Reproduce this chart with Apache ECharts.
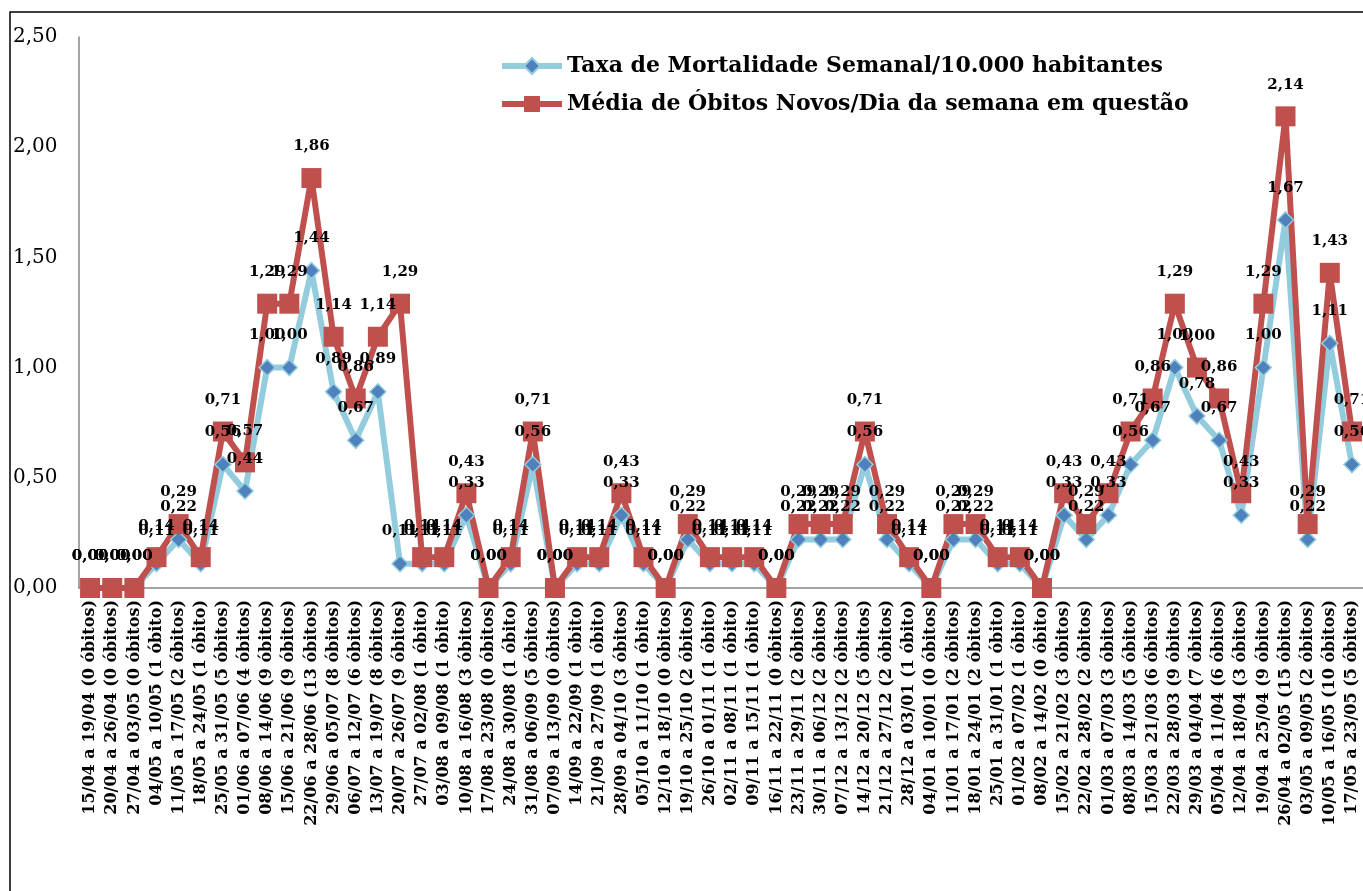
<!DOCTYPE html>
<html>
<head>
<meta charset="utf-8">
<script src="https://cdn.jsdelivr.net/npm/echarts@6/dist/echarts.min.js"></script>
<style>html,body{margin:0;padding:0;background:#fff;}#c{width:1363px;height:891px;}</style>
</head>
<body>
<div id="c"></div>
<script>
var categories = [
"15/04 a 19/04 (0 óbitos)","20/04 a 26/04 (0 óbitos)","27/04 a 03/05 (0 óbitos)","04/05 a 10/05 (1 óbito)",
"11/05 a 17/05 (2 óbitos)","18/05 a 24/05 (1 óbito)","25/05 a 31/05 (5 óbitos)","01/06 a 07/06 (4 óbitos)",
"08/06 a 14/06 (9 óbitos)","15/06 a 21/06 (9 óbitos)","22/06 a 28/06 (13 óbitos)","29/06 a 05/07 (8 óbitos)",
"06/07 a 12/07 (6 óbitos)","13/07 a 19/07 (8 óbitos)","20/07 a 26/07 (9 óbitos)","27/07 a 02/08 (1 óbito)",
"03/08 a 09/08 (1 óbito)","10/08 a 16/08 (3 óbitos)","17/08 a 23/08 (0 óbitos)","24/08 a 30/08 (1 óbito)",
"31/08 a 06/09 (5 óbitos)","07/09 a 13/09 (0 óbitos)","14/09 a 22/09 (1 óbito)","21/09 a 27/09 (1 óbito)",
"28/09 a 04/10 (3 óbitos)","05/10 a 11/10 (1 óbito)","12/10 a 18/10 (0 óbitos)","19/10 a 25/10 (2 óbitos)",
"26/10 a 01/11 (1 óbito)","02/11 a 08/11 (1 óbito)","09/11 a 15/11 (1 óbito)","16/11 a 22/11 (0 óbitos)",
"23/11 a 29/11 (2 óbitos)","30/11 a 06/12 (2 óbitos)","07/12 a 13/12 (2 óbitos)","14/12 a 20/12 (5 óbitos)",
"21/12 a 27/12 (2 óbitos)","28/12 a 03/01 (1 óbito)","04/01 a 10/01 (0 óbitos)","11/01 a 17/01 (2 óbitos)",
"18/01 a 24/01 (2 óbitos)","25/01 a 31/01 (1 óbito)","01/02 a 07/02 (1 óbito)","08/02 a 14/02 (0 óbito)",
"15/02 a 21/02 (3 óbitos)","22/02 a 28/02 (2 óbitos)","01/03 a 07/03 (3 óbitos)","08/03 a 14/03 (5 óbitos)",
"15/03 a 21/03 (6 óbitos)","22/03 a 28/03 (9 óbitos)","29/03 a 04/04 (7 óbitos)","05/04 a 11/04 (6 óbitos)",
"12/04 a 18/04 (3 óbitos)","19/04 a 25/04 (9 óbitos)","26/04 a 02/05 (15 óbitos)","03/05 a 09/05 (2 óbitos)",
"10/05 a 16/05 (10 óbitos)","17/05 a 23/05 (5 óbitos)"
];
var taxaSemanal = [
0,0,0,0.11,0.22,0.11,0.56,0.44,1.00,1.00,1.44,0.89,0.67,0.89,0.11,0.11,0.11,0.33,0,0.11,
0.56,0,0.11,0.11,0.33,0.11,0,0.22,0.11,0.11,0.11,0,0.22,0.22,0.22,0.56,0.22,0.11,0,0.22,
0.22,0.11,0.11,0,0.33,0.22,0.33,0.56,0.67,1.00,0.78,0.67,0.33,1.00,1.67,0.22,1.11,0.56
];
var mediaObitos = [
0,0,0,0.14,0.29,0.14,0.71,0.57,1.29,1.29,1.86,1.14,0.86,1.14,1.29,0.14,0.14,0.43,0,0.14,
0.71,0,0.14,0.14,0.43,0.14,0,0.29,0.14,0.14,0.14,0,0.29,0.29,0.29,0.71,0.29,0.14,0,0.29,
0.29,0.14,0.14,0,0.43,0.29,0.43,0.71,0.86,1.29,1.00,0.86,0.43,1.29,2.14,0.29,1.43,0.71
];
var seriesNames = ["Taxa de Mortalidade Semanal/10.000 habitantes","Média de Óbitos Novos/Dia da semana em questão"];
var yTicks = [0, 0.5, 1.0, 1.5, 2.0, 2.5];

function fmt(v){ return Number(v).toFixed(2).replace('.', ','); }
var SERIF = "DejaVu Serif";
var labelStyle = {show:true, position:'top', fontFamily:SERIF, fontWeight:'bold', fontSize:15, color:'#000', formatter:function(p){return fmt(p.value);}};
var chart = echarts.init(document.getElementById('c'), null, {renderer:'canvas'});
chart.setOption({
  animation:false,
  backgroundColor:'#fff',
  grid:{left:79, top:37, width:1290, height:551, containLabel:false},
  legend:{
    orient:'vertical', left:494, top:50, itemWidth:60, itemHeight:20, itemGap:16,
    textStyle:{fontFamily:SERIF, fontWeight:'bold', fontSize:22, color:'#000'},
    data:[
      {name:seriesNames[0], lineStyle:{width:6}},
      {name:seriesNames[1], lineStyle:{width:6}}
    ]
  },
  xAxis:{
    type:'category', data:categories, boundaryGap:true,
    axisLine:{lineStyle:{color:'#868686', width:1.5}},
    axisTick:{show:false},
    axisLabel:{interval:0, rotate:90, margin:12, fontFamily:SERIF, fontWeight:'bold', fontSize:16, color:'#000'}
  },
  yAxis:{
    type:'value', min:yTicks[0], max:yTicks[yTicks.length-1], interval:0.5,
    splitLine:{show:false},
    axisLine:{show:true, lineStyle:{color:'#868686', width:1.5}},
    axisTick:{show:false},
    axisLabel:{align:'left', margin:66, fontFamily:SERIF, fontSize:20, color:'#000', formatter:fmt}
  },
  graphic:[{type:'rect', shape:{x:10, y:12, width:1420, height:920}, style:{fill:null, stroke:'#000', lineWidth:1.5}, silent:true, z:-1}],
  series:[
    {
      name:seriesNames[0], type:'line', data:taxaSemanal,
      symbol:'diamond', symbolSize:16,
      lineStyle:{color:'#93CDDD', width:6},
      itemStyle:{color:'#4F81BD', borderColor:'#93CDDD', borderWidth:1.5},
      label:Object.assign({distance:16}, labelStyle),
      z:2
    },
    {
      name:seriesNames[1], type:'line', data:mediaObitos,
      symbol:'rect', symbolSize:20,
      lineStyle:{color:'#C0504D', width:6},
      itemStyle:{color:'#C0504D', borderColor:'#C0504D', borderWidth:0},
      label:Object.assign({distance:14}, labelStyle),
      z:2
    }
  ]
});
</script>
</body>
</html>
